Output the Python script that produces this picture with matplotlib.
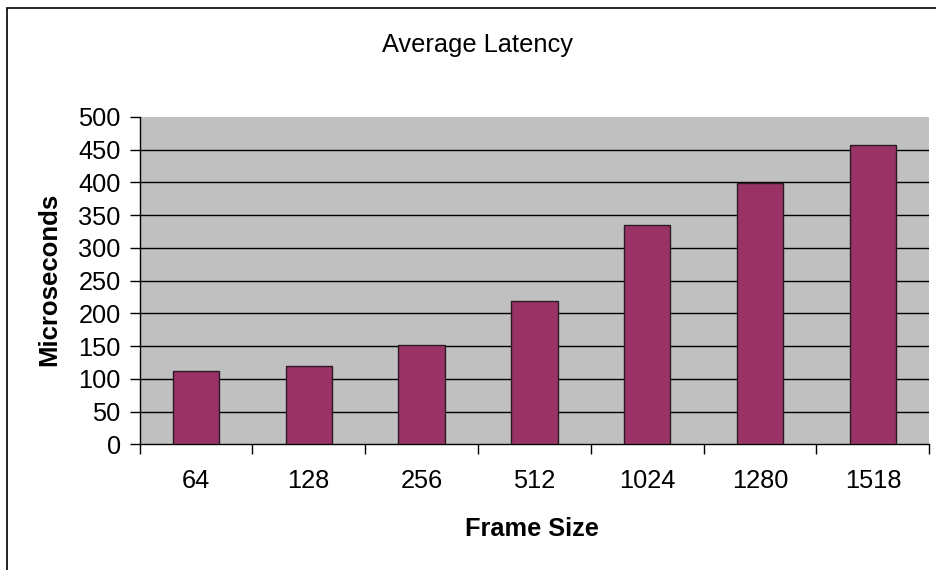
import matplotlib
matplotlib.use("Agg")
import matplotlib.pyplot as plt
from matplotlib.patches import Rectangle
import numpy as np

categories = ["64", "128", "256", "512", "1024", "1280", "1518"]
latency = [112, 119, 152, 219, 335, 399, 457]
yticks = [0, 50, 100, 150, 200, 250, 300, 350, 400, 450, 500]

plt.rcParams['font.family'] = ['Liberation Sans', 'DejaVu Sans']

W, H = 936, 570
fig = plt.figure(figsize=(W / 100, H / 100), dpi=100)
fig.patch.set_facecolor('white')

L, R, T, B = 139.5, 929.3, 117.0, 444.3
ax = fig.add_axes([L / W, 1 - B / H, (R - L) / W, (B - T) / H])
ax.set_facecolor('#C0C0C0')

x = np.arange(len(categories))
ax.bar(x, latency, width=0.41, color='#993366', edgecolor='#2a1a22',
       linewidth=1.0, zorder=3)

ax.set_xlim(-0.5, len(categories) - 0.5)
ax.set_ylim(0, 500)
ax.set_yticks(yticks)
ax.set_yticklabels([str(v) for v in yticks], fontsize=18.3)
for v in yticks[1:-1]:
    ax.axhline(v, color='black', linewidth=1.0, zorder=1)

ax.set_xticks(x)
ax.set_xticklabels(categories, fontsize=18.3)
ax.set_xticks(np.arange(len(categories) + 1) - 0.5, minor=True)
ax.tick_params(axis='x', which='major', length=0, pad=17.5)
ax.tick_params(axis='x', which='minor', length=7, width=1, color='black',
               direction='out')
ax.tick_params(axis='y', which='major', length=7, width=1, color='black',
               direction='out', pad=6.5)

for s in ['top', 'right']:
    ax.spines[s].set_visible(False)
for s in ['left', 'bottom']:
    ax.spines[s].set_color('black')
    ax.spines[s].set_linewidth(1.0)

fig.text(477.8 / W, 1 - 51.7 / H, "Average Latency", fontsize=18.3,
         ha='center', va='baseline')
fig.text(531.7 / W, 1 - 536 / H, "Frame Size", fontsize=18.3,
         fontweight='bold', ha='center', va='baseline')
fig.text(49 / W, 1 - 279 / H, "Microseconds", fontsize=18.5,
         fontweight='bold', ha='center', va='center', rotation=90)

fig.add_artist(Rectangle((7 / W, -0.2), 1.5, 1.2 - 8 / H,
                         transform=fig.transFigure, fill=False,
                         edgecolor='black', linewidth=1.2, clip_on=False))

fig.savefig("out.png", dpi=100)
